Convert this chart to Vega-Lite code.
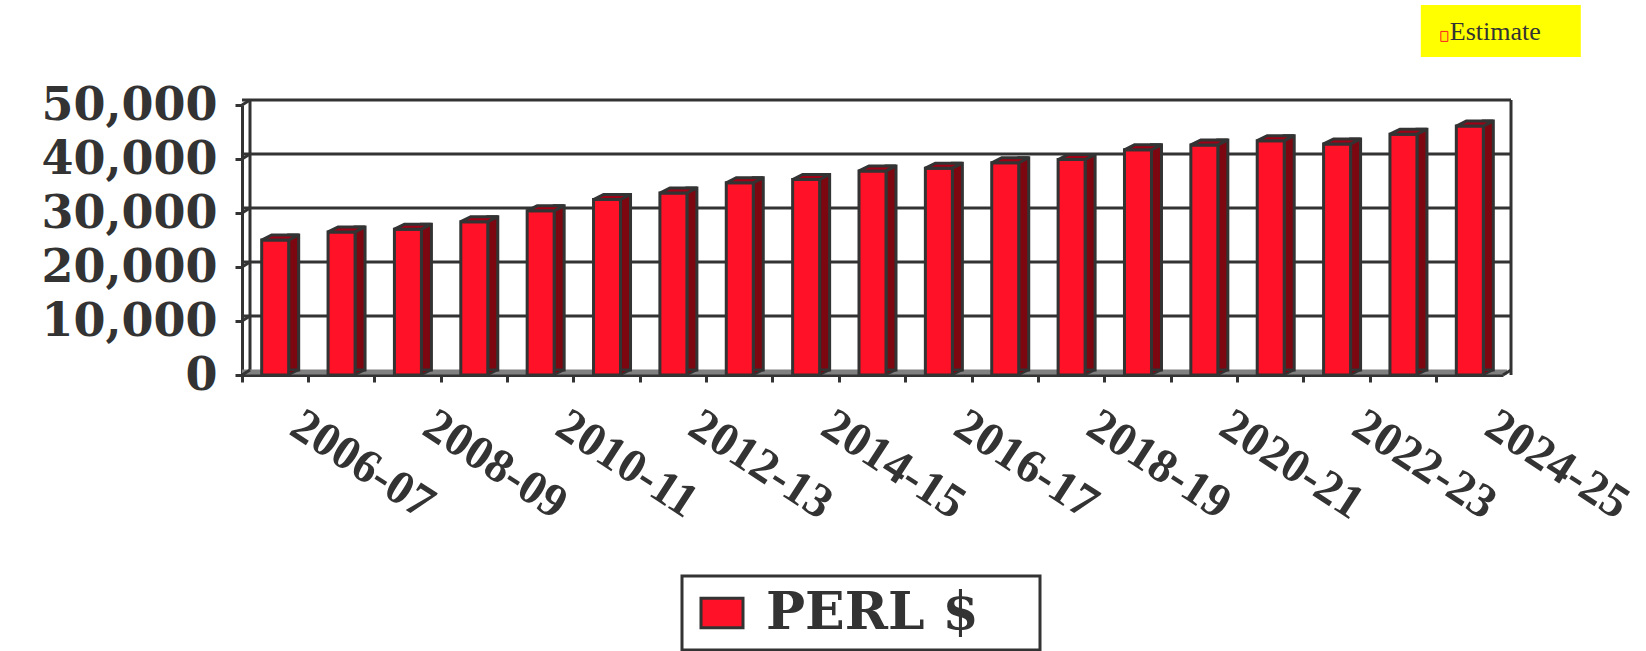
{
"$schema":"https://vega.github.io/schema/vega-lite/v6.json",
"width":1261,"height":270,
"autosize":{"type":"none"},
"padding":{"left":242,"top":105,"right":143,"bottom":276},
"background":"white",
"config":{"view":{"stroke":null},"legend":{"strokeWidth":3}},
"datasets":{
"perl":[
{"year":"2006-07","perl":25000},{"year":"2007-08","perl":26500},{"year":"2008-09","perl":27000},{"year":"2009-10","perl":28400},{"year":"2010-11","perl":30400},{"year":"2011-12","perl":32500},{"year":"2012-13","perl":33700},{"year":"2013-14","perl":35600},{"year":"2014-15","perl":36200},{"year":"2015-16","perl":37800},{"year":"2016-17","perl":38300},{"year":"2017-18","perl":39300},{"year":"2018-19","perl":39900},{"year":"2019-20","perl":41700},{"year":"2020-21","perl":42600},{"year":"2021-22","perl":43400},{"year":"2022-23","perl":42800},{"year":"2023-24","perl":44600},{"year":"2024-25","perl":46100}],
"ticks":[{"v":0},{"v":10000},{"v":20000},{"v":30000},{"v":40000},{"v":50000}]
},
"layer":[
{"data":{"values":[{"year":"2006-07"}]},
 "mark":{"type":"rule","stroke":"#333333","strokeWidth":3,"xOffset":8,"yOffset":-5,"y2Offset":-5},
 "encoding":{"x":{"field":"year","type":"nominal","bandPosition":0,"title":null}}},
{"data":{"values":[{"year":"2024-25"}]},
 "mark":{"type":"rule","stroke":"#333333","strokeWidth":3,"xOffset":8,"yOffset":-5,"y2Offset":-5},
 "encoding":{"x":{"field":"year","type":"nominal","bandPosition":1,"title":null}}},
{"data":{"name":"ticks"},"transform":[{"filter":"datum.v>0"}],
 "mark":{"type":"rule","stroke":"#333333","strokeWidth":3,"xOffset":8,"x2Offset":8,"yOffset":-5},
 "encoding":{"y":{"field":"v","type":"quantitative","title":null}}},
{"data":{"values":[{"v":0}]},
 "mark":{"type":"rule","stroke":"#808080","strokeWidth":5,"xOffset":4,"x2Offset":4,"yOffset":-3},
 "encoding":{"y":{"field":"v","type":"quantitative","title":null}}},
{"data":{"name":"ticks"},
 "mark":{"type":"point","shape":"M0,0L8,-5","size":4,"stroke":"#333333","strokeWidth":3,"opacity":1},
 "encoding":{"x":{"datum":"2006-07","type":"nominal","bandPosition":0,"title":null},"y":{"field":"v","type":"quantitative","title":null}}},
{"data":{"values":[{"year":"2024-25","v":0}]},
 "mark":{"type":"point","shape":"M0,0L8,-5","size":4,"stroke":"#333333","strokeWidth":3,"opacity":1},
 "encoding":{"x":{"field":"year","type":"nominal","bandPosition":1,"title":null},"y":{"field":"v","type":"quantitative","title":null}}},
{"data":{"name":"perl"},
 "mark":{"type":"bar","width":10,"xOffset":18.5,"yOffset":-5,"y2Offset":-5,"fill":"#7d0711","stroke":"#333333","strokeWidth":3},
 "encoding":{"x":{"field":"year","type":"nominal","title":null},"y":{"field":"perl","type":"quantitative","title":null}}},
{"data":{"name":"perl"},
 "mark":{"type":"point","shape":"M13.5,0L13.5,-5L23.5,-5Z","size":4,"filled":true,"fill":"#7d0711","stroke":"#333333","strokeWidth":2,"opacity":1},
 "encoding":{"x":{"field":"year","type":"nominal","title":null},"y":{"datum":0,"type":"quantitative","title":null}}},
{"data":{"name":"perl"},
 "mark":{"type":"bar","width":27,"stroke":"#333333","strokeWidth":3},
 "encoding":{
  "x":{"field":"year","type":"nominal","title":null,"scale":{"paddingInner":0,"paddingOuter":0},
   "axis":{"title":null,"bandPosition":0,"domainColor":"#333333","domainWidth":3,"tickColor":"#333333","tickWidth":3,"tickSize":7,
    "labelExpr":"parseInt(slice(datum.value,0,4))%2==0?datum.value:''","labelOverlap":false,"labelAngle":33,"labelAlign":"left","labelBaseline":"middle","labelOffset":20,"labelPadding":39,
    "labelFont":"Liberation Serif","labelFontWeight":"bold","labelFontSize":48,"labelColor":"#333333","labelLimit":400}},
  "y":{"field":"perl","type":"quantitative","title":null,"scale":{"domain":[0,50000],"nice":false},
   "axis":{"title":null,"values":[0,10000,20000,30000,40000,50000],"labelExpr":"format(datum.value,',')","grid":false,"domainColor":"#333333","domainWidth":3,"tickColor":"#333333","tickWidth":3,"tickSize":7,"labelPadding":18,
    "labelFont":"DejaVu Serif","labelFontWeight":"bold","labelFontSize":46,"labelColor":"#333333","labelLimit":400}},
  "color":{"datum":"PERL $","type":"nominal","scale":{"domain":["PERL $"],"range":["#ff1127"]},
   "legend":{"title":"\u00a0","titleOrient":"right","titlePadding":50,"titleFontSize":1,"orient":"none","legendX":440,"legendY":471,"padding":11,"strokeColor":"#333333","symbolType":"M-1,-0.7H1V0.7H-1Z","symbolSize":1764,"symbolStrokeColor":"#333333","symbolStrokeWidth":3,"symbolOpacity":1,"symbolOffset":3,"labelOffset":18,
    "labelFont":"DejaVu Serif","labelFontWeight":"bold","labelFontSize":52,"labelColor":"#333333","labelLimit":500}}
 }},
{"data":{"name":"perl"},
 "mark":{"type":"point","shape":"M-13.5,0L-3.5,-5L23.5,-5L13.5,0Z","size":4,"filled":true,"fill":"#a00015","stroke":"#333333","strokeWidth":3,"opacity":1},
 "encoding":{"x":{"field":"year","type":"nominal","title":null},"y":{"field":"perl","type":"quantitative","title":null}}},
{"data":{"values":[{"year":"2024-25","top":68500,"bottom":58900}]},
 "mark":{"type":"bar","width":160,"xOffset":31,"fill":"#ffff00"},
 "encoding":{"x":{"field":"year","type":"nominal","title":null},"y":{"field":"top","type":"quantitative","title":null},"y2":{"field":"bottom"}}},
{"data":{"values":[{"year":"2024-25","v":62700}]},
 "mark":{"type":"point","shape":"M-3.5,-5H3.5V5H-3.5Z","size":4,"filled":true,"fill":"#ffee00","stroke":"#ff2020","strokeWidth":1,"opacity":1,"xOffset":-25.5},
 "encoding":{"x":{"field":"year","type":"nominal","title":null},"y":{"field":"v","type":"quantitative","title":null}}},
{"data":{"values":[{"year":"2024-25","v":62000,"note":"Estimate"}]},
 "mark":{"type":"text","align":"left","baseline":"alphabetic","xOffset":-20,"font":"Liberation Serif","fontSize":26,"fill":"#333333"},
 "encoding":{"x":{"field":"year","type":"nominal","title":null},"y":{"field":"v","type":"quantitative","title":null},"text":{"field":"note"}}}
]
}
